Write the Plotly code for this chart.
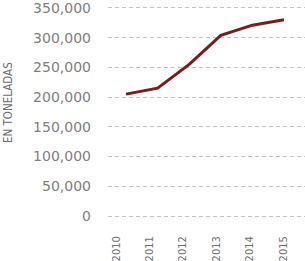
import plotly.graph_objects as go

years = [2010, 2011, 2012, 2013, 2014, 2015]
toneladas = [205000, 215000, 255000, 304000, 321000, 330000]
year_labels = ["2010", "2011", "2012", "2013", "2014", "2015"]
y_ticks = [0, 50000, 100000, 150000, 200000, 250000, 300000, 350000]
y_title = "EN TONELADAS"

COND = "DejaVu Sans Condensed, Liberation Sans Narrow, sans-serif"

fig = go.Figure()
fig.add_trace(go.Scatter(x=years, y=toneladas, mode="lines",
                         line=dict(color="#7a1c1a", width=3),
                         hoverinfo="skip", showlegend=False))
# invisible trace to carry the year label axis
fig.add_trace(go.Scatter(x=years, y=[None]*len(years), xaxis="x2", mode="lines",
                         showlegend=False, hoverinfo="skip"))

grid = dict(showgrid=True, gridcolor="#c4c4c4", gridwidth=1, griddash="4px,3px")

fig.update_layout(
    width=305, height=261,
    margin=dict(l=108, r=0, t=2, b=40),
    paper_bgcolor="white", plot_bgcolor="white",
    xaxis=dict(range=[2009.43, 2015.665], showticklabels=False, showgrid=False,
               zeroline=False, showline=False, ticks=""),
    xaxis2=dict(range=[2009.76, 2015.659], overlaying="x", anchor="y", side="bottom",
                tickvals=years, ticktext=year_labels, tickangle=-90,
                ticks="", ticklabelstandoff=14, showgrid=False, zeroline=False,
                ticklabeloverflow="allow",
                tickfont=dict(family=COND, size=11, color="#707070")),
    yaxis=dict(range=[-5000, 360000], tickvals=y_ticks, tickformat=",",
               zeroline=False, showline=False, ticks="", ticklabelstandoff=16,
               ticklabeloverflow="allow",
               tickfont=dict(family="DejaVu Sans", size=14, color="#808080"),
               **grid),
    annotations=[dict(text=y_title, textangle=-90, xref="paper", yref="paper",
                      x=(8 - 108) / 197, y=(221 - 104) / 219,
                      xanchor="center", yanchor="middle", showarrow=False,
                      font=dict(family=COND, size=11.5, color="#707070"))],
)

fig.write_html("out.html")
